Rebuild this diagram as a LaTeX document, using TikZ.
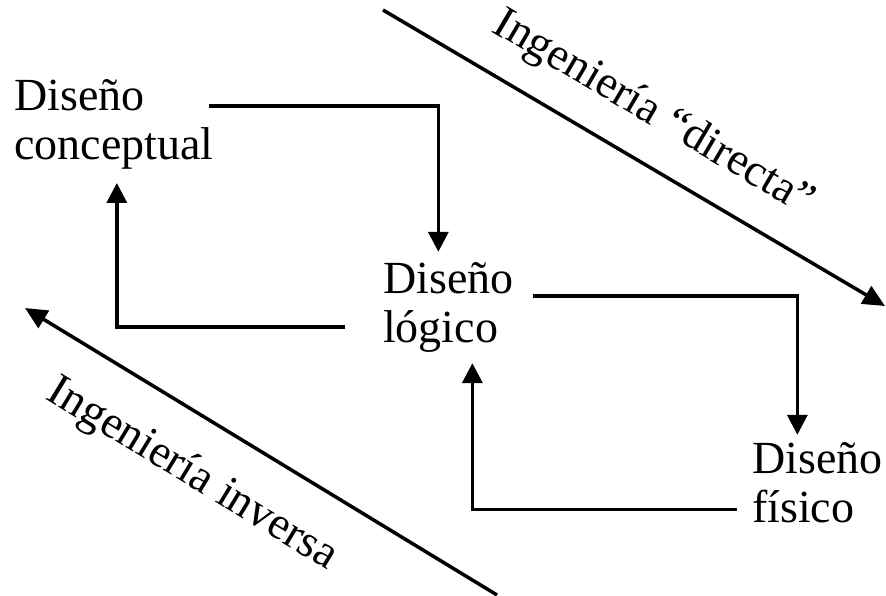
\documentclass[tikz,border=0pt]{standalone}
\usepackage{fontspec}
\setmainfont{Liberation Serif}
\usetikzlibrary{calc,arrows.meta}
\begin{document}
\begin{tikzpicture}[x=1pt,y=-1pt,
  lbl/.style={font=\fontsize{46}{49}\selectfont, align=left, inner sep=0pt, anchor=base west},
  arr/.style={line width=3.5pt, -{Triangle[length=20pt,width=20pt]}},
  diag/.style={line width=3.5pt, -{Triangle[length=22pt,width=20pt]}},
  tag/.style={font=\fontsize{46}{49}\selectfont, inner sep=0pt, sloped}
]
\useasboundingbox (0,0) rectangle (886,596);

% design stages (anchored on the baseline of the second line)
\node[lbl] (conc) at (14,160) {Diseño\\conceptual};
\node[lbl] (log)  at (383,342) {Diseño\\lógico};
\node[lbl] (fis)  at (752,522) {Diseño\\físico};

% forward and backward steps between stages
\draw[arr] ($(conc.north east)+(-5,26)$) -| ($(log.north)+(-10,-10)$);
\draw[arr] ($(log.west)+(-38,20)$) -| ($(conc.south)+(3,13)$);
\draw[arr] ($(log.north east)+(19,34)$) -| ($(fis.north)+(-20,-7)$);
\draw[arr] ($(fis.south west)+(-15,-13)$) -| ($(log.south)+(24,11)$);

% engineering directions
\coordinate (dirA) at (383,10);
\coordinate (dirB) at (885,306);
\draw[diag] (dirA) -- (dirB)
  node[tag, pos=0.49, above=25pt] {Ingeniería “directa”};

\coordinate (invA) at (497,595);
\coordinate (invB) at (25,308);
\draw[diag] (invA) -- (invB)
  node[tag, pos=0.585, below=33pt] {Ingeniería inversa};
\end{tikzpicture}
\end{document}
